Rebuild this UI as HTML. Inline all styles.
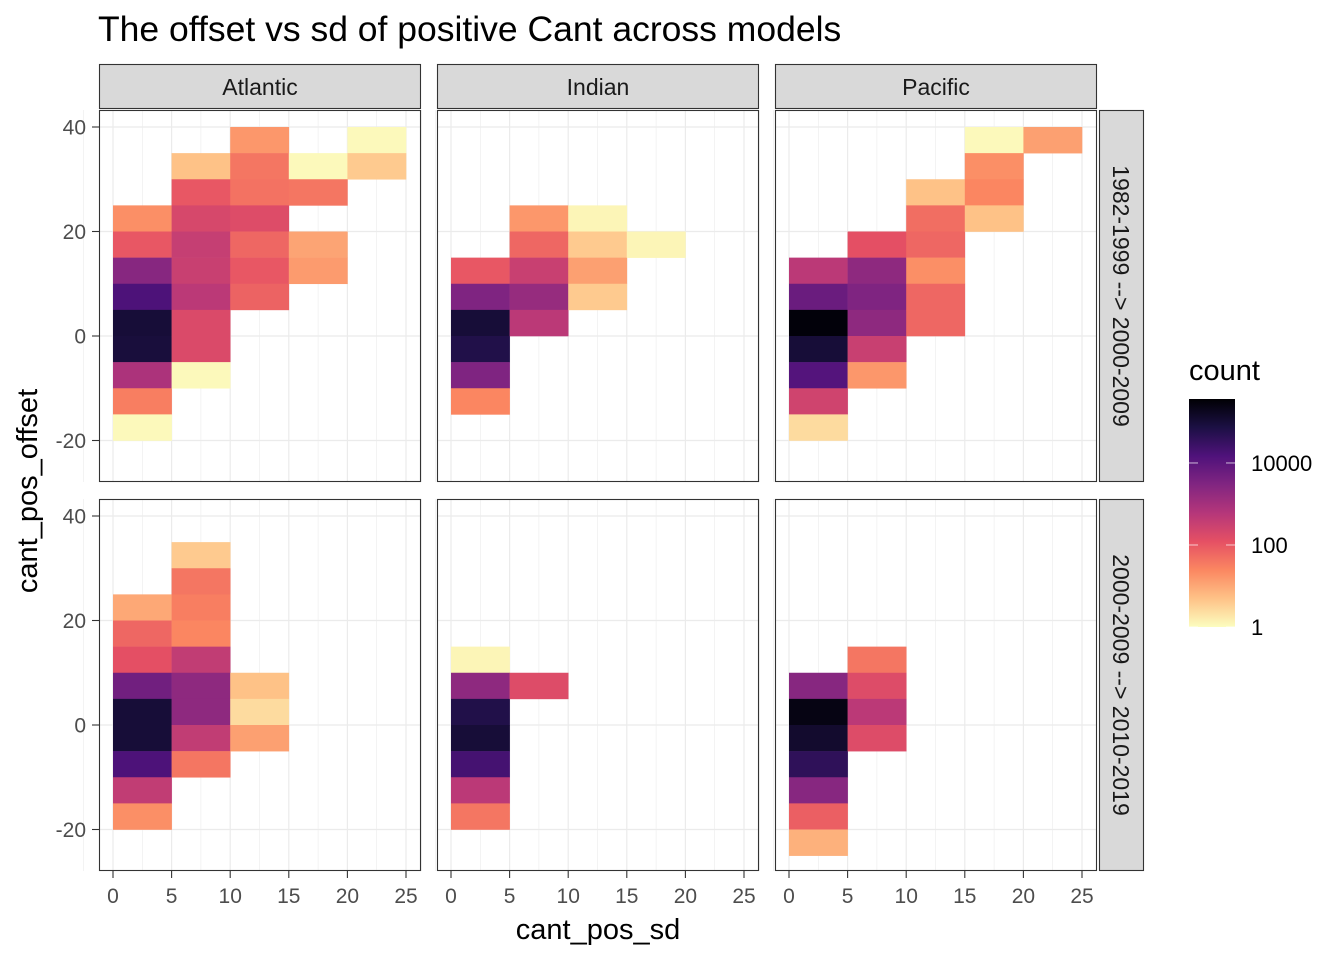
<!DOCTYPE html>
<html><head><meta charset="utf-8"><style>
body{margin:0;background:#fff;}
svg text{font-family:"Liberation Sans",sans-serif;}
</style></head><body>
<svg id="chart" width="1344" height="960" xmlns="http://www.w3.org/2000/svg">
<text x="98" y="41" font-size="35.5" fill="#000">The offset vs sd of positive Cant across models</text>
<text x="598" y="939" font-size="29" text-anchor="middle">cant_pos_sd</text>
<text transform="translate(37,491) rotate(-90)" font-size="29" text-anchor="middle">cant_pos_offset</text>
<g id="panels"></g>
<g id="legend"></g>
</svg>
<script>
const basins = ["Atlantic","Indian","Pacific"];
const periods = ["1982-1999 --> 2000-2009","2000-2009 --> 2010-2019"];
const xTicks = [0,5,10,15,20,25];
const yTicks = [-20,0,20,40];
const legendTicks = [1,100,10000];
// tiles: [basinIndex, periodIndex, sd bin lower, offset bin lower, log10(count)]
const tiles = [
[0,0,0,20,1.3],[0,0,0,15,2.0],[0,0,0,10,3.4],[0,0,0,5,4.2],[0,0,0,0,5.0],[0,0,0,-5,4.95],[0,0,0,-10,2.9],[0,0,0,-15,1.5],[0,0,0,-20,0.05],
[0,0,5,30,0.7],[0,0,5,25,2.0],[0,0,5,20,2.3],[0,0,5,15,2.55],[0,0,5,10,2.5],[0,0,5,5,2.7],[0,0,5,0,2.25],[0,0,5,-5,2.25],[0,0,5,-10,0.05],
[0,0,10,35,1.2],[0,0,10,30,1.6],[0,0,10,25,1.65],[0,0,10,20,2.2],[0,0,10,15,1.8],[0,0,10,10,2.0],[0,0,10,5,1.85],
[0,0,15,30,0.05],[0,0,15,25,1.6],[0,0,15,15,1.05],[0,0,15,10,1.15],
[0,0,20,35,0.05],[0,0,20,30,0.6],
[1,0,0,10,2.0],[1,0,0,5,3.5],[1,0,0,0,5.0],[1,0,0,-5,4.8],[1,0,0,-10,3.5],[1,0,0,-15,1.4],
[1,0,5,20,1.2],[1,0,5,15,1.8],[1,0,5,10,2.5],[1,0,5,5,3.2],[1,0,5,0,2.7],
[1,0,10,20,0.1],[1,0,10,15,0.6],[1,0,10,10,1.1],[1,0,10,5,0.6],
[1,0,15,15,0.1],
[2,0,0,10,2.7],[2,0,0,5,3.8],[2,0,0,0,5.5],[2,0,0,-5,5.0],[2,0,0,-10,4.1],[2,0,0,-15,2.4],[2,0,0,-20,0.4],
[2,0,5,15,2.1],[2,0,5,10,3.3],[2,0,5,5,3.5],[2,0,5,0,3.3],[2,0,5,-5,2.5],[2,0,5,-10,1.2],
[2,0,10,25,0.7],[2,0,10,20,1.7],[2,0,10,15,1.8],[2,0,10,10,1.3],[2,0,10,5,1.8],[2,0,10,0,1.8],
[2,0,15,35,0.05],[2,0,15,30,1.3],[2,0,15,25,1.4],[2,0,15,20,0.7],
[2,0,20,35,1.1],
[0,1,0,20,1.0],[0,1,0,15,1.8],[0,1,0,10,2.1],[0,1,0,5,3.7],[0,1,0,0,5.0],[0,1,0,-5,5.0],[0,1,0,-10,4.2],[0,1,0,-15,2.6],[0,1,0,-20,1.3],
[0,1,5,30,0.6],[0,1,5,25,1.6],[0,1,5,20,1.5],[0,1,5,15,1.4],[0,1,5,10,2.6],[0,1,5,5,3.3],[0,1,5,0,3.3],[0,1,5,-5,2.6],[0,1,5,-10,1.6],
[0,1,10,5,0.7],[0,1,10,0,0.4],[0,1,10,-5,1.1],
[1,1,0,10,0.1],[1,1,0,5,3.3],[1,1,0,0,4.8],[1,1,0,-5,5.0],[1,1,0,-10,4.3],[1,1,0,-15,2.7],[1,1,0,-20,1.6],
[1,1,5,5,2.2],
[2,1,0,5,3.4],[2,1,0,0,5.4],[2,1,0,-5,5.1],[2,1,0,-10,4.6],[2,1,0,-15,3.4],[2,1,0,-20,1.9],[2,1,0,-25,0.9],
[2,1,5,10,1.6],[2,1,5,5,2.2],[2,1,5,0,2.7],[2,1,5,-5,2.2]
];
const NS="http://www.w3.org/2000/svg";
const magma=["#000004","#1c1044","#4f127b","#812581","#b5367a","#e55064","#fb8761","#fec287","#fcfdbf"];
const maxLog=5.56;
function hex(h){return [1,3,5].map(i=>parseInt(h.substr(i,2),16));}
function magmaAt(t){t=Math.max(0,Math.min(1,t));const p=t*8,i=Math.min(7,Math.floor(p)),f=p-i;const a=hex(magma[i]),b=hex(magma[i+1]);return "rgb("+a.map((v,k)=>Math.round(v+(b[k]-v)*f)).join(",")+")";}
function colorFor(l){return magmaAt(1-l/maxLog);}
function el(tag,attrs,parent){const e=document.createElementNS(NS,tag);for(const k in attrs)e.setAttribute(k,attrs[k]);parent.appendChild(e);return e;}
const panelX=[99,437,775],panelW=322,panelY=[110,499],panelH=372;
const pxPerX=11.72, pxPerY=5.225;
function xScale(c,v){return panelX[c]+14+v*pxPerX;}
function yScale(r,v){return panelY[r]+226-v*pxPerY;}
const root=document.getElementById('panels');
for(let r=0;r<2;r++)for(let c=0;c<3;c++){
  const g=el('g',{},root);
  
  
  el('rect',{x:panelX[c],y:panelY[r],width:panelW,height:panelH,fill:'#fff'},g);
  for(let v=-2.5;v<=27.5;v+=5){el('line',{x1:xScale(c,v),x2:xScale(c,v),y1:panelY[r],y2:panelY[r]+panelH,stroke:'#ebebeb','stroke-width':0.6},g);}
  for(let v=-30;v<=40;v+=20){const y=yScale(r,v+10);if(y>panelY[r]&&y<panelY[r]+panelH)el('line',{x1:panelX[c],x2:panelX[c]+panelW,y1:y,y2:y,stroke:'#ebebeb','stroke-width':0.6},g);}
  xTicks.forEach(v=>el('line',{x1:xScale(c,v),x2:xScale(c,v),y1:panelY[r],y2:panelY[r]+panelH,stroke:'#ebebeb','stroke-width':1.2},g));
  yTicks.forEach(v=>el('line',{x1:panelX[c],x2:panelX[c]+panelW,y1:yScale(r,v),y2:yScale(r,v),stroke:'#ebebeb','stroke-width':1.2},g));
}
tiles.forEach(t=>{
  const [c,r,x0,y0,l]=t;
  const rc=el('rect',{x:xScale(c,x0),y:yScale(r,y0+5),width:5*pxPerX+0.3,height:5*pxPerY+0.3,fill:colorFor(l)},root);
  
  
});
for(let r=0;r<2;r++)for(let c=0;c<3;c++){
  el('rect',{x:panelX[c]+0.5,y:panelY[r]+0.5,width:panelW-1,height:panelH-1,fill:'none',stroke:'#333','stroke-width':1.1},root);
}
basins.forEach((b,c)=>{
  const g=el('g',{},root);
  
  
  el('rect',{x:panelX[c]+0.5,y:64.5,width:panelW-1,height:44,fill:'#d9d9d9',stroke:'#333','stroke-width':1.1},g);
  const t=el('text',{x:panelX[c]+panelW/2,y:95,'font-size':23,'text-anchor':'middle',fill:'#1a1a1a'},g);t.textContent=b;
});
periods.forEach((p,r)=>{
  const g=el('g',{},root);
  
  
  el('rect',{x:1099.5,y:panelY[r]+0.5,width:44,height:panelH-1,fill:'#d9d9d9',stroke:'#333','stroke-width':1.1},g);
  const t=el('text',{'font-size':23,'text-anchor':'middle',fill:'#1a1a1a',transform:'translate(1113,'+(panelY[r]+panelH/2)+') rotate(90)'},g);t.textContent=p;
});
for(let c=0;c<3;c++){xTicks.forEach(v=>{
  el('line',{x1:xScale(c,v),x2:xScale(c,v),y1:871,y2:878,stroke:'#333','stroke-width':1.1},root);
  const t=el('text',{x:xScale(c,v),y:903,'font-size':21,'text-anchor':'middle',fill:'#4d4d4d'},root);t.textContent=v;
  
  
});}
for(let r=0;r<2;r++){yTicks.forEach(v=>{
  const y=yScale(r,v);
  el('line',{x1:92,x2:99,y1:y,y2:y,stroke:'#333','stroke-width':1.1},root);
  const t=el('text',{x:86,y:y+7.5,'font-size':21,'text-anchor':'end',fill:'#4d4d4d'},root);t.textContent=v;
  
  
});}
const lg=document.getElementById('legend');
const lt=el('text',{x:1189,y:380,'font-size':29},lg);lt.textContent='count';
const defs=el('defs',{},lg);
const grad=el('linearGradient',{id:'lgrad',x1:0,y1:1,x2:0,y2:0},defs);
for(let i=0;i<=8;i++)el('stop',{offset:i/8,'stop-color':magma[8-i]},grad);
const lx=1189,lw=46,lTop=399,lBot=627;
el('rect',{x:lx,y:lTop,width:lw,height:lBot-lTop,fill:'url(#lgrad)'},lg);
legendTicks.forEach(v=>{
  const y=lBot-Math.log10(v)/maxLog*(lBot-lTop);
  el('line',{x1:lx,x2:lx+9,y1:y,y2:y,stroke:'#fff','stroke-opacity':0.7,'stroke-width':1},lg);
  el('line',{x1:lx+lw-9,x2:lx+lw,y1:y,y2:y,stroke:'#fff','stroke-opacity':0.7,'stroke-width':1},lg);
  const t=el('text',{x:1251,y:y+8,'font-size':22},lg);t.textContent=v;
});
</script>
</body></html>
